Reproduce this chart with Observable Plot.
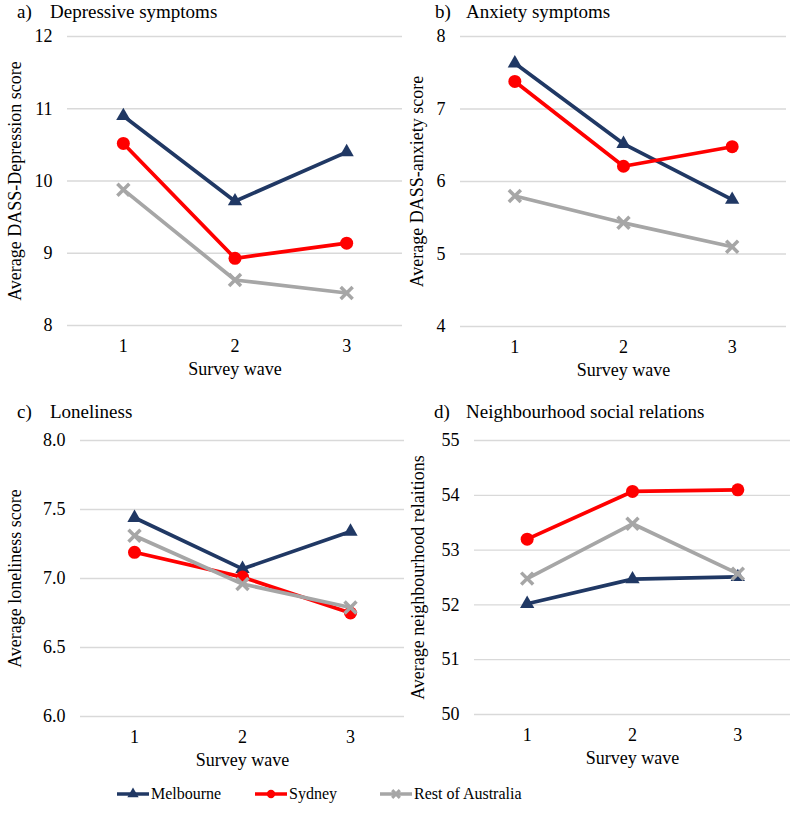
<!DOCTYPE html>
<html><head><meta charset="utf-8">
<script src="https://cdn.jsdelivr.net/npm/d3@7"></script>
<script src="https://cdn.jsdelivr.net/npm/@observablehq/plot@0.6"></script>
<style>
body{margin:0;background:#fff;font-family:"Liberation Serif","Times New Roman",serif;color:#000;}
#wrap{position:relative;width:798px;height:819px;overflow:hidden;background:#fff;}
.panel{position:absolute;}
.title{position:absolute;font-size:19px;line-height:19px;white-space:nowrap;}
.legend{position:absolute;font-size:16px;line-height:16px;white-space:nowrap;display:flex;align-items:center;}
.legend svg{display:block;margin-right:2px;}
</style></head><body><div id="wrap"></div>
<script>
// ---- data ----
const waves = [1, 2, 3];
const seriesNames = ["Melbourne", "Sydney", "Rest of Australia"];
const seriesColors = ["#203864", "#ff0000", "#a6a6a6"];
const seriesSymbols = ["triangle", "circle", "times"];

const depMelbourne = [10.90, 9.72, 10.40];
const depSydney    = [10.52, 8.93, 9.14];
const depRest      = [9.88, 8.63, 8.45];

const anxMelbourne = [7.63, 6.52, 5.75];
const anxSydney    = [7.38, 6.21, 6.48];
const anxRest      = [5.80, 5.43, 5.10];

const lonMelbourne = [7.44, 7.07, 7.34];
const lonSydney    = [7.19, 7.01, 6.75];
const lonRest      = [7.31, 6.96, 6.79];

const nbrMelbourne = [52.02, 52.47, 52.51];
const nbrSydney    = [53.20, 54.07, 54.10];
const nbrRest      = [52.48, 53.48, 52.57];

const depTicks = [8, 9, 10, 11, 12];
const anxTicks = [4, 5, 6, 7, 8];
const lonTicks = [6.0, 6.5, 7.0, 7.5, 8.0];
const nbrTicks = [50, 51, 52, 53, 54, 55];

// ---- panels ----
const panels = [
  {letter:"a)", title:"Depressive symptoms", ylabel:"Average DASS-Depression score",
   data:[depMelbourne, depSydney, depRest], ticks:depTicks, fmt:d3.format("d"),
   left:0, top:0, width:402, height:390, mt:36, mb:65, ml:67, mr:0, labelOffset:59,
   tx:17, tx2:50, ty:2},
  {letter:"b)", title:"Anxiety symptoms", ylabel:"Average DASS-anxiety score",
   data:[anxMelbourne, anxSydney, anxRest], ticks:anxTicks, fmt:d3.format("d"),
   left:398, top:0, width:400, height:390, mt:36, mb:64, ml:62, mr:12, labelOffset:50,
   tx:435, tx2:466, ty:2},
  {letter:"c)", title:"Loneliness", ylabel:"Average loneliness score",
   data:[lonMelbourne, lonSydney, lonRest], ticks:lonTicks, fmt:d3.format(".1f"),
   left:0, top:400, width:404, height:390, mt:40, mb:74, ml:80, mr:0, labelOffset:72,
   tx:17, tx2:50, ty:402},
  {letter:"d)", title:"Neighbourhood social relations", ylabel:"Average neighbourhood relaitions",
   data:[nbrMelbourne, nbrSydney, nbrRest], ticks:nbrTicks, fmt:d3.format("d"),
   left:398, top:400, width:400, height:390, mt:40, mb:76, ml:76, mr:8, labelOffset:63,
   tx:434, tx2:466, ty:402}
];

const wrap = document.getElementById("wrap");

for (const p of panels) {
  const rows = [];
  p.data.forEach((vals, i) => vals.forEach((v, j) => rows.push({series: seriesNames[i], wave: waves[j], value: v})));
  const dotMarks = seriesNames.map((s, i) => {
    const sub = rows.filter(r => r.series === s);
    if (seriesSymbols[i] === "times")
      return Plot.dot(sub, {x:"wave", y:"value", symbol:"times", r:5.5, stroke:seriesColors[i], strokeWidth:3.5, fill:"none"});
    return Plot.dot(sub, {x:"wave", y:"value", symbol:seriesSymbols[i], r:seriesSymbols[i]==="triangle"?5.3:6.5, fill:seriesColors[i], stroke:"none"});
  });
  const lineMarks = seriesNames.map((s, i) =>
    Plot.line(rows.filter(r => r.series === s), {x:"wave", y:"value", stroke:seriesColors[i], strokeWidth:3.7}));
  const marks = [Plot.gridY(p.ticks, {stroke:"#d9d9d9", strokeOpacity:1, strokeWidth:1.3})];
  seriesNames.forEach((s, i) => { marks.push(lineMarks[i]); marks.push(dotMarks[i]); });
  const chart = Plot.plot({
    width: p.width, height: p.height,
    marginTop: p.mt, marginBottom: p.mb, marginLeft: p.ml, marginRight: p.mr,
    style: {fontFamily: '"Liberation Serif","Times New Roman",serif', fontSize: "18px", color: "#000", background: "transparent", overflow: "visible"},
    x: {domain: [0.5, 3.5], ticks: waves, tickFormat: d3.format("d"), tickSize: 0, tickPadding: 14,
        label: "Survey wave", labelAnchor: "center", labelOffset: 49, labelArrow: "none"},
    y: {domain: [p.ticks[0], p.ticks[p.ticks.length - 1]], ticks: p.ticks, tickFormat: p.fmt, tickSize: 0, tickPadding: 15,
        label: p.ylabel, labelAnchor: "center", labelOffset: p.labelOffset, labelArrow: "none"},
    marks
  });
  chart.classList.add("panel");
  chart.style.left = p.left + "px";
  chart.style.top = p.top + "px";
  wrap.appendChild(chart);
  const t1 = document.createElement("div");
  t1.className = "title"; t1.textContent = p.letter;
  t1.style.left = p.tx + "px"; t1.style.top = p.ty + "px";
  wrap.appendChild(t1);
  const t2 = document.createElement("div");
  t2.className = "title"; t2.textContent = p.title;
  t2.style.left = p.tx2 + "px"; t2.style.top = p.ty + "px";
  wrap.appendChild(t2);
}

// ---- legend ----
const legendX = [117, 255, 380];
seriesNames.forEach((s, i) => {
  const item = document.createElement("div");
  item.className = "legend";
  item.style.left = legendX[i] + "px";
  item.style.top = "786px";
  const ns = "http://www.w3.org/2000/svg";
  const svg = document.createElementNS(ns, "svg");
  svg.setAttribute("width", 32); svg.setAttribute("height", 16);
  const ln = document.createElementNS(ns, "line");
  ln.setAttribute("x1", 0); ln.setAttribute("x2", 32); ln.setAttribute("y1", 8); ln.setAttribute("y2", 8);
  ln.setAttribute("stroke", seriesColors[i]); ln.setAttribute("stroke-width", 3.5);
  svg.appendChild(ln);
  const sym = document.createElementNS(ns, "path");
  const symType = {triangle: d3.symbolTriangle, circle: d3.symbolCircle, times: d3.symbolTimes}[seriesSymbols[i]];
  sym.setAttribute("d", d3.symbol(symType, seriesSymbols[i] === "times" ? 40 : 55)());
  sym.setAttribute("transform", "translate(16,8)");
  if (seriesSymbols[i] === "times") { sym.setAttribute("fill", "none"); sym.setAttribute("stroke", seriesColors[i]); sym.setAttribute("stroke-width", 3); }
  else sym.setAttribute("fill", seriesColors[i]);
  svg.appendChild(sym);
  item.appendChild(svg);
  const label = document.createElement("span");
  label.textContent = s;
  item.appendChild(label);
  wrap.appendChild(item);
});
</script></body></html>
